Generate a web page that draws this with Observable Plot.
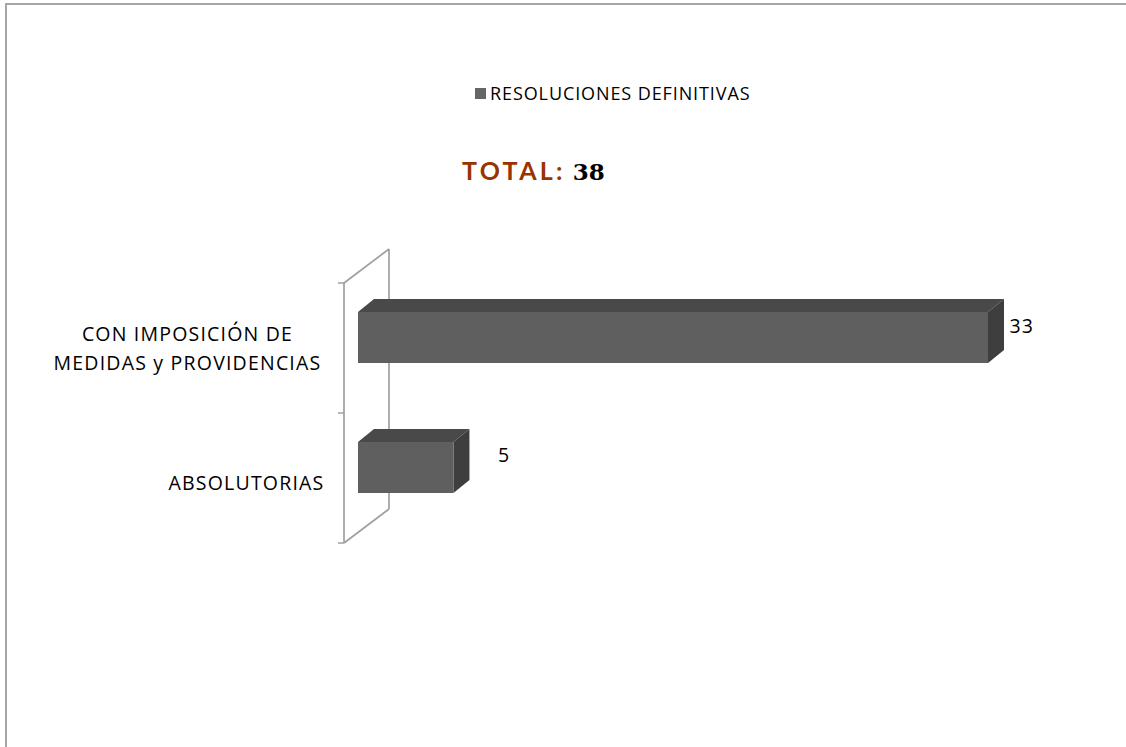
<!DOCTYPE html>
<html><head><meta charset="utf-8">
<script src="https://cdn.jsdelivr.net/npm/d3@7"></script>
<script src="https://cdn.jsdelivr.net/npm/@observablehq/plot@0.6"></script>
<style>
html,body{margin:0;padding:0;background:#fff;overflow:hidden;}
#wrap{position:relative;width:1126px;height:747px;overflow:hidden;}
#frame{position:absolute;left:5px;top:3px;width:1300px;height:900px;border-top:2px solid #a6a6a6;border-left:2px solid #a6a6a6;}
#chart{position:absolute;left:0;top:0;}
#swatch{position:absolute;left:475px;top:88px;width:11px;height:11px;background:#666666;}
#legendText{position:absolute;left:490px;top:81px;font-family:"Open Sans";font-size:18px;letter-spacing:0.9px;color:#000;white-space:nowrap;}
#title{position:absolute;left:462px;top:154.6px;white-space:nowrap;}
#title .lab{font-family:Lato;font-weight:700;font-size:25px;letter-spacing:3.3px;color:#993300;}
#title .num{font-family:"DejaVu Serif";font-weight:700;font-size:23px;color:#000;margin-left:7px;}
</style>
</head><body>
<div id="wrap">
  <div id="frame"></div>
  <div id="chart"></div>
  <div id="swatch"></div>
  <div id="legendText"></div>
  <div id="title"></div>
</div>
<script>
// ---- data ----
const categories = ["CON IMPOSICIÓN DE\nMEDIDAS y PROVIDENCIAS", "ABSOLUTORIAS"];
const values = [33, 5];
const seriesName = "RESOLUCIONES DEFINITIVAS";
const totalLabel = "TOTAL:";
const totalValue = 38;

const data = categories.map((c, i) => ({category: c, value: values[i]}));

// ---- 3D style parameters (pixels) ----
const WALL = [45, -34];       // depth of the back wall
const FRONT = [14, -11];      // bar front-face offset
const BACK = [30, -24];       // bar back-face offset
const INSET_T = 40, INSET_B = 39;
const FACE = "#5f5f5f", TOP = "#494949", SIDE = "#3e3e3e";

document.getElementById("legendText").textContent = seriesName;
document.getElementById("title").innerHTML =
  `<span class="lab">${totalLabel}</span><span class="num">${totalValue}</span>`;

function wallMark(index, scales) {
  const x = scales.x, y = scales.y, bw = y.bandwidth();
  const x0 = x(0);
  const yTop = y(categories[0]);
  const yBot = y(categories[categories.length - 1]) + bw;
  const p = d3.path();
  p.moveTo(x0 + WALL[0], yTop + WALL[1]); p.lineTo(x0 + WALL[0], yBot + WALL[1]);
  p.moveTo(x0, yTop); p.lineTo(x0, yBot);
  p.moveTo(x0, yTop); p.lineTo(x0 + WALL[0], yTop + WALL[1]);
  p.moveTo(x0, yBot); p.lineTo(x0 + WALL[0], yBot + WALL[1]);
  const ticks = categories.map(c => y(c)).concat([yBot]);
  for (const t of ticks) { p.moveTo(x0 - 6, t); p.lineTo(x0, t); }
  const g = d3.create("svg:g");
  g.append("path").attr("d", p.toString()).attr("fill", "none")
    .attr("stroke", "#a0a0a0").attr("stroke-width", 1.7);
  return g.node();
}

function facesMark(index, scales) {
  const x = scales.x, y = scales.y, bw = y.bandwidth();
  const ox = BACK[0] - FRONT[0], oy = BACK[1] - FRONT[1];
  const g = d3.create("svg:g");
  for (const d of data) {
    const xl = x(0) + FRONT[0], xr = x(d.value) + FRONT[0];
    const yt = y(d.category) + INSET_T + FRONT[1];
    const yb = y(d.category) + bw - INSET_B + FRONT[1];
    const top = [[xl, yt], [xl + ox, yt + oy], [xr + ox, yt + oy], [xr, yt]];
    const side = [[xr, yt], [xr + ox, yt + oy], [xr + ox, yb + oy], [xr, yb]];
    g.append("path").attr("d", "M" + top.join("L") + "Z").attr("fill", TOP);
    g.append("path").attr("d", "M" + side.join("L") + "Z").attr("fill", SIDE);
  }
  return g.node();
}

const plot = Plot.plot({
  width: 1126,
  height: 747,
  marginTop: 0, marginRight: 0, marginBottom: 0, marginLeft: 0,
  style: {fontFamily: "Open Sans", fontSize: "19.5px", letterSpacing: "1.2px", color: "#000", background: "transparent", overflow: "visible"},
  x: {domain: [0, 33], range: [344, 974], axis: null},
  y: {domain: categories, range: [283, 543], padding: 0, axis: null},
  marks: [
    wallMark,
    facesMark,
    Plot.barX(data, {x: "value", y: "category", fill: FACE, insetTop: INSET_T, insetBottom: INSET_B, dx: FRONT[0], dy: FRONT[1]}),
    // category labels
    Plot.text(data.filter((d, i) => i === 0), {x: () => 0, y: "category", text: "category", textAnchor: "middle", lineAnchor: "middle", lineHeight: 1.5, dx: -157, dy: -2, fill: "#000"}),
    Plot.text(data.filter((d, i) => i === 1), {x: () => 0, y: "category", text: "category", textAnchor: "end", lineAnchor: "middle", dx: -20, dy: 5, fill: "#000"}),
    // value labels
    Plot.text(data.filter((d, i) => i === 0), {x: "value", y: "category", text: d => String(d.value), textAnchor: "start", dx: 35, dy: -22, fill: "#000"}),
    Plot.text(data.filter((d, i) => i === 1), {x: "value", y: "category", text: d => String(d.value), textAnchor: "start", dx: 58, dy: -23, fill: "#000"})
  ]
});
document.getElementById("chart").appendChild(plot);
</script>
</body></html>
